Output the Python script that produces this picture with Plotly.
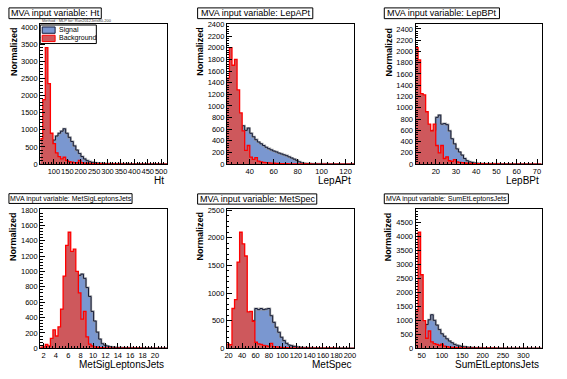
import numpy as np
import plotly.graph_objects as go

W, H = 567, 379

# ---------------- data ----------------
var_names = ["Ht", "LepAPt", "LepBPt", "MetSigLeptonsJets", "MetSpec", "SumEtLeptonsJets"]

ht_range = [49, 523]
ht_signal = [0, 10, 40, 150, 420, 700, 820, 900, 960, 1030, 900, 780, 660, 530, 410, 310, 220, 150, 100, 70,
             50, 40, 30, 25, 20, 15, 12, 10, 8, 7, 6, 5, 5, 4, 4, 3, 3, 2, 2, 2, 2, 1, 1, 1, 1, 1, 1, 1, 0, 0]
ht_background = [740, 1880, 3400, 2350, 900, 600, 330, 220, 150, 200, 110, 70, 60, 45, 40, 110, 40, 30, 25, 20,
                 15, 12, 10, 10, 8, 6, 5, 5, 4, 4, 3, 3, 2, 2, 2, 2, 1, 1, 1, 1, 1, 1, 1, 1, 0, 0, 0, 0, 0, 0]

lepapt_range = [21, 127]
lepapt_signal = [100, 200, 300, 400, 500, 600, 660, 580, 620, 530, 470, 420, 380, 350, 320, 290, 265, 245, 225, 210,
                 190, 175, 160, 145, 125, 105, 85, 65, 40, 20, 12, 10, 8, 6, 5, 5, 4, 4, 3, 3, 2, 2, 2, 2, 1, 1, 1, 1, 1, 1]
lepapt_background = [1480, 2005, 1700, 1800, 1275, 880, 570, 235, 320, 120, 80, 110, 50, 40, 30, 25, 20, 18, 15, 12,
                     10, 8, 7, 6, 5, 4, 4, 3, 3, 2, 2, 2, 2, 1, 1, 1, 1, 1, 1, 1, 0, 0, 0, 0, 0, 0, 0, 0, 0, 0]

lepbpt_range = [10, 72.3]
lepbpt_signal = [50, 100, 180, 280, 400, 500, 590, 600, 830, 870, 710, 720, 700, 590, 450, 360, 270, 215, 160, 100,
                 60, 40, 30, 20, 15, 10, 8, 6, 5, 4, 4, 3, 3, 2, 2, 2, 2, 1, 1, 1, 1, 1, 1, 1, 1, 0, 0, 0, 0, 0]
lepbpt_background = [2070, 1850, 1250, 1230, 930, 710, 590, 710, 330, 200, 330, 100, 130, 60, 50, 80, 40, 30, 25, 20,
                     15, 12, 10, 8, 7, 6, 5, 4, 3, 3, 2, 2, 2, 1, 1, 1, 1, 1, 1, 1, 0, 0, 0, 0, 0, 0, 0, 0, 0, 0]

metsig_range = [1.46, 22.0]
metsig_signal = [0, 0, 5, 10, 20, 30, 45, 70, 110, 170, 260, 380, 520, 780, 870, 950, 965, 910, 790, 675,
                 480, 355, 210, 120, 60, 40, 30, 20, 15, 12, 10, 8, 7, 6, 5, 5, 4, 4, 3, 3, 3, 2, 2, 2, 2, 1, 1, 1, 1, 1]
metsig_background = [15, 20, 50, 30, 130, 240, 160, 280, 510, 940, 1340, 1510, 1260, 1290, 1000, 720, 380, 480, 150, 55,
                     30, 20, 15, 10, 8, 6, 5, 4, 3, 3, 2, 2, 2, 1, 1, 1, 1, 1, 1, 1, 0, 0, 0, 0, 0, 0, 0, 0, 0, 0]

metspec_range = [17.5, 206]
metspec_signal = [0, 5, 20, 40, 70, 110, 160, 230, 310, 400, 500, 720, 700, 720, 700, 710, 720, 590, 470, 380,
                  290, 200, 140, 90, 60, 48, 35, 25, 20, 15, 12, 10, 8, 7, 6, 5, 5, 4, 4, 3, 3, 3, 2, 2, 2, 2, 1, 1, 1, 1]
metspec_background = [77, 65, 720, 880, 1560, 2100, 1890, 1670, 660, 670, 490, 110, 80, 70, 55, 45, 35, 90, 30, 25,
                      20, 15, 12, 10, 8, 7, 6, 5, 4, 4, 3, 3, 2, 2, 2, 2, 1, 1, 1, 1, 1, 1, 1, 0, 0, 0, 0, 0, 0, 0]

sumet_range = [35, 345]
sumet_signal = [100, 250, 450, 700, 850, 1020, 1200, 1000, 830, 670, 520, 430, 340, 260, 200, 140, 110, 85, 65, 50,
                40, 32, 25, 20, 16, 13, 10, 8, 7, 6, 5, 5, 4, 4, 3, 3, 3, 2, 2, 2, 2, 1, 1, 1, 1, 1, 1, 1, 1, 1]
sumet_background = [1330, 4150, 2630, 990, 360, 620, 230, 170, 140, 110, 150, 80, 60, 45, 35, 30, 25, 20, 15, 12,
                    10, 8, 7, 6, 5, 4, 4, 3, 3, 2, 2, 2, 1, 1, 1, 1, 1, 1, 1, 1, 0, 0, 0, 0, 0, 0, 0, 0, 0, 0]

ht_xticks = [100, 150, 200, 250, 300, 350, 400, 450, 500]
lepapt_xticks = [40, 60, 80, 100, 120]
lepbpt_xticks = [20, 30, 40, 50, 60, 70]
metsig_xticks = [2, 4, 6, 8, 10, 12, 14, 16, 18, 20]
metspec_xticks = [20, 40, 60, 80, 100, 120, 140, 160, 180, 200]
sumet_xticks = [50, 100, 150, 200, 250, 300]

y_dticks = [500, 200, 200, 200, 500, 500]
x_minor = [10, 5, 2, 0.5, 5, 10]

panels = [
    (ht_range, ht_signal, ht_background, ht_xticks),
    (lepapt_range, lepapt_signal, lepapt_background, lepapt_xticks),
    (lepbpt_range, lepbpt_signal, lepbpt_background, lepbpt_xticks),
    (metsig_range, metsig_signal, metsig_background, metsig_xticks),
    (metspec_range, metspec_signal, metspec_background, metspec_xticks),
    (sumet_range, sumet_signal, sumet_background, sumet_xticks),
]

# ---------------- layout geometry (pixels) ----------------
cols_x = [(38.5, 166.5), (226.5, 354.5), (416.5, 543.5)]
rows_y = [(20.7, 164.0), (210.0, 352.7)]
xtitle_y = [180.5, 369.5]


def fx(x):
    return x / W


def fy(y):
    return 1 - y / H


SIG_FILL = "rgb(122,151,208)"
SIG_LINE = "#151c3a"
BKG_FILL = "rgb(206,88,92)"
BKG_LINE = "#ff0000"
FONT = "Liberation Sans, Arial, sans-serif"

fig = go.Figure()
layout = dict(
    width=W, height=H, margin=dict(l=0, r=0, t=0, b=0),
    paper_bgcolor="white", plot_bgcolor="white", showlegend=False,
    font=dict(family=FONT, color="black"),
)
shapes = []
annotations = []

for k, (rng, sig, bkg, xt) in enumerate(panels):
    r, c = divmod(k, 3)
    x0, x1 = cols_x[c]
    ytop, ybot = rows_y[r]
    sfx = "" if k == 0 else str(k + 1)
    xa, ya = "x" + sfx, "y" + sfx
    n = len(sig)
    edges = np.linspace(rng[0], rng[1], n + 1)
    ys = list(sig) + [sig[-1]]
    yb = list(bkg) + [bkg[-1]]
    # signal: fill, grey halo, dark outline
    fig.add_trace(go.Scatter(x=edges, y=ys, mode="lines", line_shape="hv", fill="tozeroy",
                             fillcolor=SIG_FILL, line=dict(width=0, color=SIG_FILL),
                             xaxis=xa, yaxis=ya, hoverinfo="skip"))
    fig.add_trace(go.Scatter(x=edges, y=ys, mode="lines", line_shape="hv",
                             line=dict(width=2.2, color="rgba(150,150,150,0.8)"),
                             xaxis=xa, yaxis=ya, hoverinfo="skip"))
    fig.add_trace(go.Scatter(x=edges, y=ys, mode="lines", line_shape="hv",
                             line=dict(width=1, color=SIG_LINE),
                             xaxis=xa, yaxis=ya, hoverinfo="skip"))
    # background
    fig.add_trace(go.Scatter(x=edges, y=yb, mode="lines", line_shape="hv", fill="tozeroy",
                             fillcolor=BKG_FILL, line=dict(width=1.3, color=BKG_LINE),
                             xaxis=xa, yaxis=ya, hoverinfo="skip"))
    ymax = 1.2 * max(max(sig), max(bkg))
    layout["xaxis" + sfx] = dict(
        domain=[fx(x0), fx(x1)], range=list(rng), anchor=ya,
        showline=True, linecolor="black", linewidth=1, mirror=True,
        showgrid=False, zeroline=False, ticks="inside", ticklen=5, tickcolor="black",
        tickmode="array", tickvals=xt, ticktext=[str(v) for v in xt], tickangle=0,
        tickfont=dict(size=7.5, family=FONT),
        minor=dict(ticks="inside", ticklen=2.5, tickmode="linear", tick0=0, dtick=x_minor[k], tickcolor="black"),
    )
    layout["yaxis" + sfx] = dict(
        domain=[fy(ybot), fy(ytop)], range=[0, ymax], anchor=xa,
        showline=True, linecolor="black", linewidth=1, mirror=True,
        showgrid=False, zeroline=False, ticks="inside", ticklen=5, tickcolor="black",
        tickmode="linear", tick0=0, dtick=y_dticks[k],
        tickfont=dict(size=7.5, family=FONT),
        minor=dict(ticks="inside", ticklen=2.5, tickmode="linear", tick0=0, dtick=y_dticks[k] / 5, tickcolor="black"),
    )
    # y-axis title
    annotations.append(dict(text="<b>Normalized</b>", x=fx(x0 - 27), y=fy(ytop + 1), xref="paper", yref="paper",
                            xanchor="center", yanchor="top", textangle=-90, showarrow=False,
                            font=dict(size=9, family=FONT)))
    # x-axis title
    annotations.append(dict(text=var_names[k], x=fx(x1 - 1), y=fy(xtitle_y[r]), xref="paper", yref="paper",
                            xanchor="right", yanchor="middle", showarrow=False,
                            font=dict(size=10, family=FONT)))

# ---------------- title boxes ----------------
title_boxes = [(7, 100, 4, 15, 9), (197, 313, 4, 15, 9), (385, 501, 4, 15, 9),
               (7, 131, 194.3, 204.3, 7), (197, 317, 194.5, 205, 9), (385, 510, 194.5, 204.5, 7)]
for k, (bx0, bx1, by0, by1, fs) in enumerate(title_boxes):
    shapes.append(dict(type="rect", xref="paper", yref="paper", x0=fx(bx0), x1=fx(bx1), y0=fy(by1), y1=fy(by0),
                       line=dict(color="black", width=1), fillcolor="white", layer="above"))
    annotations.append(dict(text="MVA input variable: " + var_names[k], x=fx((bx0 + bx1) / 2), y=fy((by0 + by1) / 2),
                            xref="paper", yref="paper", xanchor="center", yanchor="middle", showarrow=False,
                            font=dict(size=fs, family=FONT)))

# tiny method label above first panel
annotations.append(dict(text="Method : MLP for: Run2012Jets80-200", x=fx(38), y=fy(17.0), xref="paper", yref="paper",
                        xanchor="left", yanchor="middle", showarrow=False, font=dict(size=4, family=FONT, color="#333")))

# ---------------- legend (first panel) ----------------
shapes.append(dict(type="rect", xref="paper", yref="paper", x0=fx(38.5), x1=fx(95), y0=fy(40.5), y1=fy(21.5),
                   line=dict(color="black", width=1), fillcolor="white", layer="above"))
shapes.append(dict(type="rect", xref="paper", yref="paper", x0=fx(40.5), x1=fx(53.5), y0=fy(30), y1=fy(23.5),
                   line=dict(color=SIG_LINE, width=1), fillcolor=SIG_FILL, layer="above"))
shapes.append(dict(type="rect", xref="paper", yref="paper", x0=fx(40.5), x1=fx(53.5), y0=fy(38.5), y1=fy(32),
                   line=dict(color=BKG_LINE, width=1), fillcolor=BKG_FILL, layer="above"))
annotations.append(dict(text="Signal", x=fx(55.5), y=fy(26.8), xref="paper", yref="paper", xanchor="left",
                        yanchor="middle", showarrow=False, font=dict(size=7, family=FONT)))
annotations.append(dict(text="Background", x=fx(55.5), y=fy(35.2), xref="paper", yref="paper", xanchor="left",
                        yanchor="middle", showarrow=False, font=dict(size=7, family=FONT)))

layout["shapes"] = shapes
layout["annotations"] = annotations
fig.update_layout(**layout)
fig.write_html("out.html", config={"displayModeBar": False},
               post_script="document.body.style.margin='0';document.body.style.padding='0';")
